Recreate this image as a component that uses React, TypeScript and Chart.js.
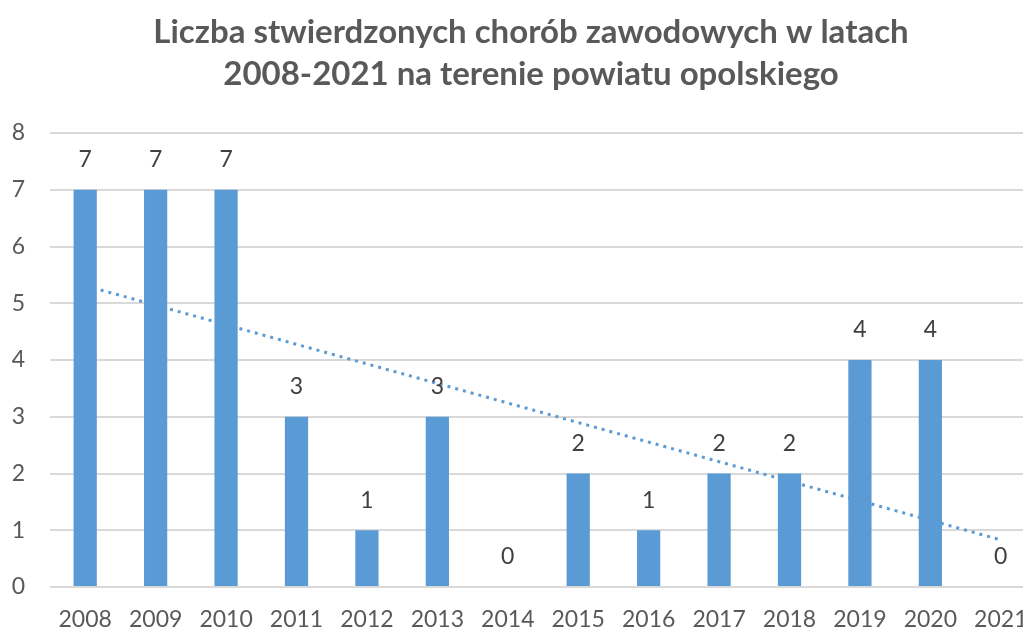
import React, { useEffect, useRef } from "react";
import { Chart, registerables } from "chart.js";

Chart.register(...registerables);

const years = ["2008","2009","2010","2011","2012","2013","2014","2015","2016","2017","2018","2019","2020","2021"];
const cases = [7, 7, 7, 3, 1, 3, 0, 2, 1, 2, 2, 4, 4, 0];
// linear trend: start (2008) and end (2021) values
const trend = [5.31, null, null, null, null, null, null, null, null, null, null, null, null, 0.83];
const titleLines = ["Liczba stwierdzonych chorób zawodowych w latach", "2008-2021 na terenie powiatu opolskiego"];

const BLUE = "#5B9BD5";
const FONT = "Lato, 'Open Sans', sans-serif";

const labelPlugin = {
  id: "valueLabels",
  afterDatasetsDraw(chart: any) {
    const ctx = chart.ctx;
    const meta = chart.getDatasetMeta(1);
    ctx.save();
    ctx.fillStyle = "#404040";
    ctx.font = `23px ${FONT}`;
    ctx.textAlign = "center";
    ctx.textBaseline = "middle";
    meta.data.forEach((el: any, i: number) => {
      ctx.fillText(String(cases[i]), el.x, el.y - 30);
    });
    ctx.restore();
  },
};

const titlePlugin = {
  id: "customTitle",
  afterDraw(chart: any) {
    const ctx = chart.ctx;
    ctx.save();
    ctx.fillStyle = "#595959";
    ctx.font = `bold 33px ${FONT}`;
    ctx.textAlign = "center";
    ctx.textBaseline = "alphabetic";
    ctx.fillText(titleLines[0], 531, 43);
    ctx.fillText(titleLines[1], 531, 85);
    ctx.restore();
  },
};

export default function App() {
  const ref = useRef<HTMLCanvasElement>(null);
  useEffect(() => {
    if (!ref.current) return;
    const chart = new Chart(ref.current, {
      type: "bar",
      data: {
        labels: years,
        datasets: [
          {
            type: "line",
            label: "Trend",
            data: trend as any,
            borderColor: BLUE,
            borderWidth: 3,
            borderDash: [3, 5],
            pointRadius: 0,
            spanGaps: true,
            fill: false,
            order: 2,
          } as any,
          {
            type: "bar",
            label: "Liczba",
            data: cases,
            backgroundColor: BLUE,
            barPercentage: 0.33,
            categoryPercentage: 1,
            order: 1,
          },
        ],
      },
      options: {
        responsive: false,
        animation: false,
        layout: { padding: { top: 133, left: 8, right: 34, bottom: 0 } },
        plugins: {
          legend: { display: false },
          title: { display: false },
          tooltip: { enabled: false },
        },
        scales: {
          x: {
            grid: { display: false, drawTicks: false },
            border: { display: false },
            ticks: { color: "#595959", font: { family: FONT, size: 23 }, padding: 19, maxRotation: 0 },
            afterFit: (s: any) => { s.height = 43; },
          },
          y: {
            min: 0,
            max: 8,
            grid: { color: "#D9D9D9", lineWidth: 2, drawTicks: false },
            border: { display: false },
            ticks: { stepSize: 1, color: "#595959", font: { family: FONT, size: 23 }, padding: 25 },
            afterFit: (s: any) => { s.width = 42; },
          },
        },
      },
      plugins: [labelPlugin, titlePlugin],
    });
    return () => chart.destroy();
  }, []);
  return (
    <div style={{ position: "fixed", left: 0, top: 0, width: 1023, height: 630, overflow: "hidden", background: "#fff" }}>
      <canvas ref={ref} width={1070} height={630} style={{ display: "block" }} />
    </div>
  );
}
